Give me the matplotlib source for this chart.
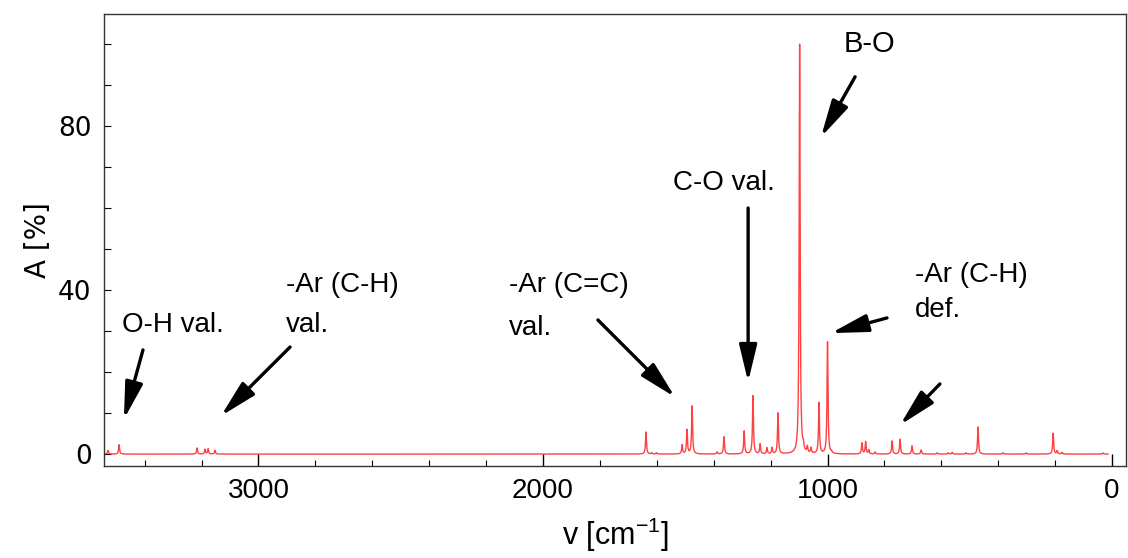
import numpy as np
import matplotlib
matplotlib.use("Agg")
import matplotlib.pyplot as plt
from matplotlib.ticker import MultipleLocator

# peak positions [cm-1] and peak heights [%]
peak_pos = [3529, 3490, 3216, 3188, 3177, 3153,
            1638, 1618, 1601, 1511, 1494, 1476, 1388, 1364, 1293, 1262,
            1237, 1213, 1195, 1174, 1098, 1085, 1071, 1058, 1030, 1000,
            986, 879, 866, 855, 833, 773, 745, 703, 671, 615, 576, 562,
            513, 471, 383, 302, 207, 193, 176, 32]
peak_height = [0.9, 2.3, 1.5, 1.2, 1.3, 0.9,
               5.4, 0.3, 0.3, 2.2, 5.9, 11.7, 0.5, 4.2, 5.6, 14.2,
               2.4, 1.5, 1.5, 10.0, 100.0, 1.4, 1.5, 1.3, 12.4, 27.3,
               0.4, 2.7, 3.0, 1.0, 0.5, 3.2, 3.6, 2.0, 1.0, 0.3, 0.3, 0.4,
               0.3, 6.6, 0.3, 0.3, 5.1, 0.8, 0.4, 0.3]
hwhm = 2.0  # lorentzian half width for the line shape

xticks = [3000, 2000, 1000, 0]
yticks = [0, 40, 80]

# annotation text lines: (text, left x, baseline y, fontsize)
text_lines = [
    ("B-O", 945, 98.0, 21),
    ("C-O val.", 1543, 64.4, 20),
    ("-Ar (C=C)", 2120, 39.5, 20),
    ("val.", 2120, 29.0, 20),
    ("-Ar (C-H)", 2903, 39.5, 20),
    ("val.", 2903, 29.8, 20),
    ("O-H val.", 3480, 29.8, 20),
    ("-Ar (C-H)", 692, 42.0, 20),
    ("def.", 692, 33.4, 20),
]
# arrows: (tail x, tail y, head x, head y)
arrows = [
    (903, 92.0, 1023, 77.3),
    (1279, 60.0, 1279, 17.6),
    (1807, 32.7, 1536, 13.9),
    (2889, 26.1, 3132, 9.3),
    (3406, 25.4, 3473, 8.5),
    (791, 33.2, 988, 29.5),
    (605, 17.1, 745, 7.1),
]

plt.rcParams["mathtext.fontset"] = "custom"
plt.rcParams["mathtext.rm"] = "Liberation Sans"
plt.rcParams["mathtext.it"] = "Liberation Sans"

nu = np.linspace(3600, 14, 14000)
spec = np.zeros_like(nu)
for p, h in zip(peak_pos, peak_height):
    spec += h / (1 + ((nu - p) / hwhm) ** 2)

fig = plt.figure(figsize=(11.28, 5.58), dpi=100)
ax = fig.add_axes([0.0922, 0.1649, 0.906, 0.81])
ax.plot(nu, spec, color="#ff2020", lw=1.0, alpha=0.85)

ax.set_xlim(3543, -49)
ax.set_ylim(-2.9, 107.3)
ax.set_xticks(xticks)
ax.set_yticks(yticks)
ax.xaxis.set_minor_locator(MultipleLocator(200))
ax.yaxis.set_minor_locator(MultipleLocator(10))
ax.tick_params(which="both", direction="in", top=False, right=False)
ax.tick_params(axis="x", which="major", length=9, width=1, pad=9)
ax.tick_params(axis="x", which="minor", length=4, width=0.8)
ax.tick_params(axis="y", which="both", length=5, width=0.8, pad=9)
for s in ax.spines.values():
    s.set_color("#333333")
    s.set_linewidth(1.0)

for t in ax.get_xticklabels():
    t.set_fontfamily("Liberation Sans")
    t.set_fontsize(20)
for t in ax.get_yticklabels():
    t.set_fontfamily("DejaVu Sans")
    t.set_fontsize(19)

ax.set_xlabel("v [cm$^{\\mathrm{-1}}$]", fontsize=22, family="Liberation Sans",
              labelpad=8)
ax.set_ylabel("A [%]", fontsize=20, family="DejaVu Sans", labelpad=4)

for txt, tx, ty, fs in text_lines:
    ax.text(tx, ty, txt, fontsize=fs, family="Liberation Sans", ha="left",
            va="baseline")
for x0, y0, x1, y1 in arrows:
    ax.annotate("", xy=(x1, y1), xytext=(x0, y0),
                arrowprops=dict(arrowstyle="-|>,head_length=1.25,head_width=0.3",
                                color="black", lw=2.4, mutation_scale=18,
                                shrinkA=0, shrinkB=0))

fig.savefig("out.png", dpi=100)
